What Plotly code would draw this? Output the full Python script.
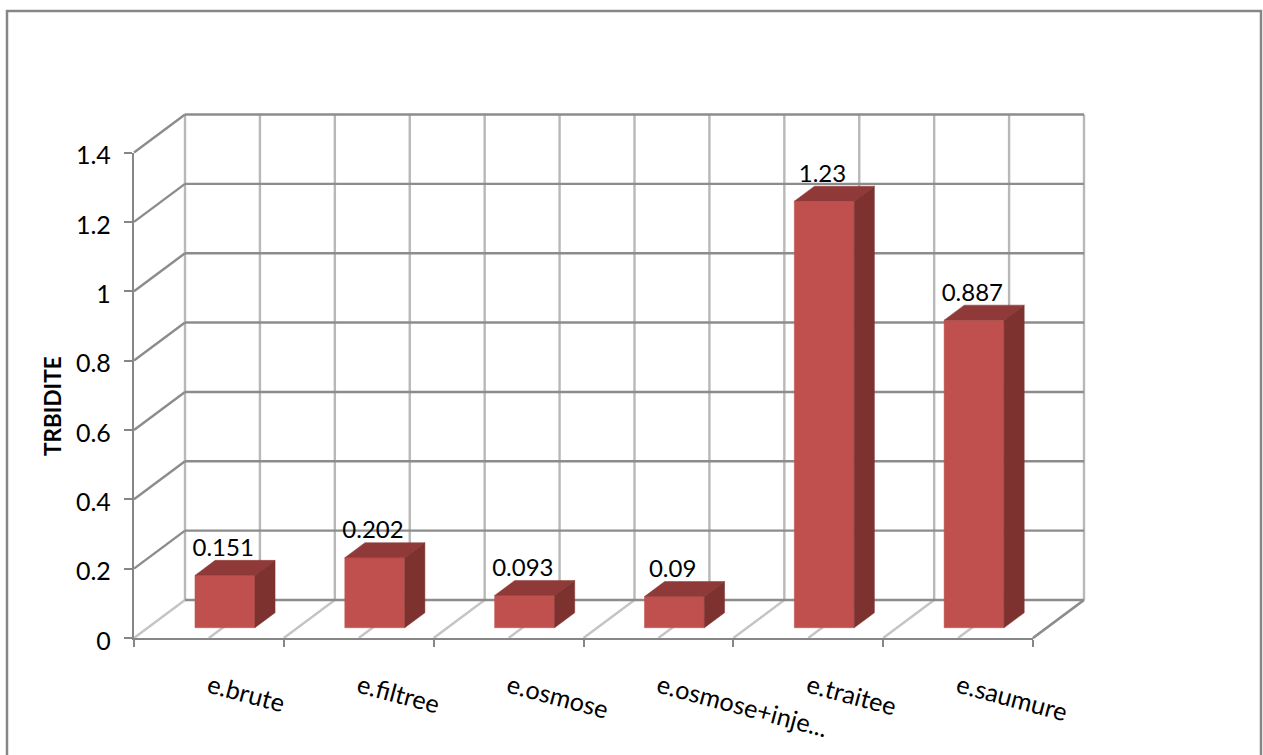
import plotly.graph_objects as go

categories = ["e.brute", "e.filtree", "e.osmose", "e.osmose+inje...", "e.traitee", "e.saumure"]
values = [0.151, 0.202, 0.093, 0.09, 1.23, 0.887]
value_labels = ["0.151", "0.202", "0.093", "0.09", "1.23", "0.887"]
y_ticks = [0, 0.2, 0.4, 0.6, 0.8, 1, 1.2, 1.4]
y_title = "TRBIDITE"

W, H = 1263, 755
X0, X1 = 134, 1033      # front axis pixels
Y0, Y1 = 638, 152.5
n = len(categories)
UX = (X1 - X0) / n
UY = (Y0 - Y1) / 1.4
DX, DY = 51 / UX, 38 / UY   # full wall depth, in axis units
BAR_W = 0.4
BAR_CENTER = 0.515
LABEL_CENTER = 0.595
LABEL_DROP = 1.5 / UY
D_FRONT, D_BACK = 0.27, 0.665

FONT = "Lato"
DARK = "#8c8c8c"
LIGHT = "#c4c4c4"
FRONT, TOP, SIDE = "#C0504D", "#8F3A38", "#7D3230"


def proj(x, v, d=0.0):
    return x + d * DX, v + d * DY


fig = go.Figure()


def line(pts, color, width=2.4):
    fig.add_trace(go.Scatter(x=[p[0] for p in pts], y=[p[1] for p in pts], mode="lines",
                             line=dict(color=color, width=width),
                             hoverinfo="skip", showlegend=False))


def face(pts, color):
    xs = [p[0] for p in pts] + [pts[0][0]]
    ys = [p[1] for p in pts] + [pts[0][1]]
    fig.add_trace(go.Scatter(x=xs, y=ys, mode="lines", fill="toself", fillcolor=color,
                             line=dict(color=color, width=0.5),
                             hoverinfo="skip", showlegend=False))


# back wall verticals and floor diagonals, every half category
for k in range(2 * n + 1):
    x = k / 2
    line([proj(x, 0, 1), proj(x, y_ticks[-1], 1)], "#b8b8b8")
    line([proj(x, 0, 0), proj(x, 0, 1)], LIGHT)

# back wall horizontals and left wall diagonals
for t in y_ticks:
    line([proj(0, t, 1), proj(n, t, 1)], DARK)
    if t > 0:
        line([proj(0, t, 0), proj(0, t, 1)], DARK)
line([proj(n, 0, 0), proj(n, 0, 1)], DARK)

# bars
for i, v in enumerate(values):
    l = i + BAR_CENTER - BAR_W / 2
    r = i + BAR_CENTER + BAR_W / 2
    face([proj(l, 0, D_FRONT), proj(r, 0, D_FRONT), proj(r, v, D_FRONT), proj(l, v, D_FRONT)], FRONT)
    face([proj(l, v, D_FRONT), proj(r, v, D_FRONT), proj(r, v, D_BACK), proj(l, v, D_BACK)], TOP)
    face([proj(r, 0, D_FRONT), proj(r, 0, D_BACK), proj(r, v, D_BACK), proj(r, v, D_FRONT)], SIDE)

# value labels
fig.add_trace(go.Scatter(x=[i + LABEL_CENTER for i in range(n)],
                         y=[proj(0, v, D_BACK)[1] - LABEL_DROP for v in values], mode="text",
                         text=value_labels, textposition="top center",
                         textfont=dict(family=FONT, size=24, color="black"),
                         cliponaxis=False, hoverinfo="skip", showlegend=False))

# the visible front axes
fig.add_trace(go.Scatter(x=[i + LABEL_CENTER for i in range(n)], y=values, mode="markers",
                         marker=dict(opacity=0), xaxis="x2", yaxis="y2",
                         hoverinfo="skip", showlegend=False))

fig.update_layout(
    width=W, height=H, autosize=False, margin=dict(l=0, r=0, t=0, b=0, autoexpand=False),
    paper_bgcolor="white", plot_bgcolor="rgba(0,0,0,0)", showlegend=False,
    xaxis=dict(domain=[0, 1], range=[-X0 / UX, (W - X0) / UX], visible=False),
    yaxis=dict(domain=[0, 1], range=[-(H - Y0) / UY, Y0 / UY], visible=False),
    xaxis2=dict(domain=[X0 / W, X1 / W], range=[0, n], anchor="y2", tickmode="array",
                tickvals=[i + 0.5 for i in range(n)], ticktext=categories, tickangle=15,
                ticks="", ticklabelstandoff=22, showgrid=False, zeroline=False,
                showline=True, linecolor="#868686", linewidth=2.4,
                tickfont=dict(family=FONT, size=25.2, color="black"),
                minor=dict(tickmode="array", tickvals=list(range(n + 1)), ticks="outside",
                           ticklen=7, tickwidth=2.4, tickcolor="#868686", showgrid=False)),
    yaxis2=dict(domain=[(H - Y0) / H, (H - Y1) / H], range=[0, 1.4], anchor="x2", tickmode="array",
                tickvals=y_ticks, ticktext=[f"{t:g}" for t in y_ticks], ticks="outside",
                ticklen=8, tickwidth=2.4, tickcolor="#868686", ticklabelstandoff=8,
                ticklabelshift=3,
                showgrid=False, zeroline=False, showline=True, linecolor="#868686", linewidth=2.4,
                tickfont=dict(family=FONT, size=25, color="black")),
    annotations=[dict(text=f"<b>{y_title}</b>", xref="paper", yref="paper", x=52 / W, y=(H - 406) / H,
                      textangle=-90, showarrow=False, xanchor="center", yanchor="middle",
                      font=dict(family=FONT, size=22.5, color="black"))],
    shapes=[dict(type="rect", xref="paper", yref="paper", x0=7 / W, x1=1261 / W,
                 y0=-0.05, y1=(H - 11) / H, line=dict(color="#868686", width=2.5),
                 fillcolor="rgba(0,0,0,0)", layer="below")],
)

fig.write_html("out.html", config={"displayModeBar": False},
               post_script="document.body.style.margin='0';document.documentElement.style.overflow='hidden';")
